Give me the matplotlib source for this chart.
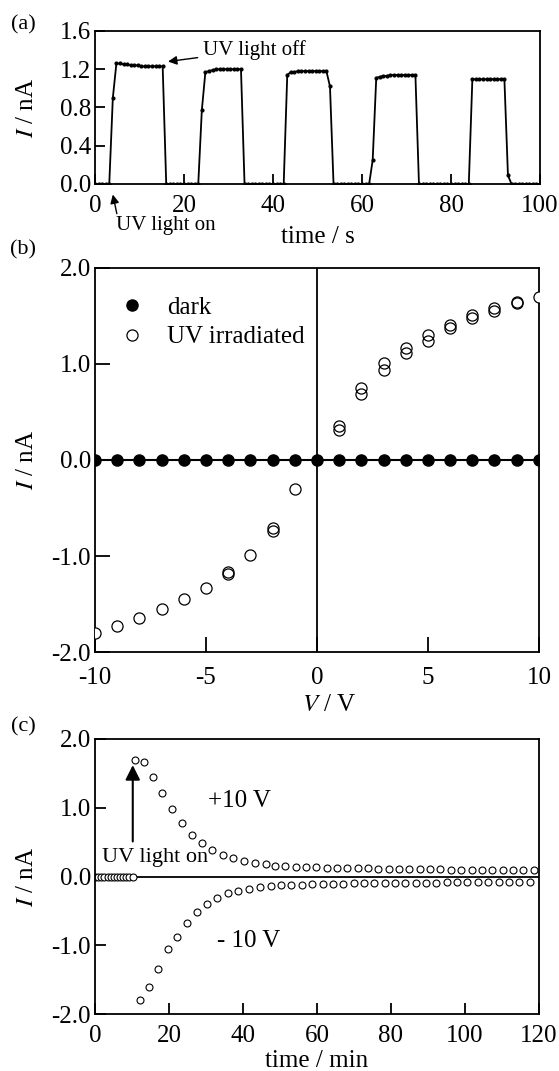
import numpy as np
import matplotlib
matplotlib.use("Agg")
import matplotlib.pyplot as plt
from matplotlib.ticker import FuncFormatter
from matplotlib.lines import Line2D

plt.rcParams["font.family"] = ["Liberation Serif", "DejaVu Serif"]
plt.rcParams["mathtext.fontset"] = "stix"
plt.rcParams["font.size"] = 18

# (a) photocurrent switching, sampled every 0.8 s
time_a = np.linspace(0, 100, 126)
current_a = [
    0, 0, 0, 0, 0, 0.90, 1.26,
    1.26, 1.25, 1.25, 1.24, 1.24, 1.24, 1.23, 1.23, 1.23, 1.23, 1.23, 1.23, 1.23,
    0, 0, 0, 0, 0, 0, 0, 0, 0, 0,
    0.77, 1.17,
    1.18, 1.19, 1.20, 1.20, 1.20, 1.20, 1.20, 1.20, 1.20, 1.20,
    0, 0, 0, 0, 0, 0, 0, 0, 0, 0, 0, 0,
    1.14,
    1.17, 1.17, 1.18, 1.18, 1.18, 1.18, 1.18, 1.18, 1.18, 1.18, 1.18,
    1.02,
    0, 0, 0, 0, 0, 0, 0, 0, 0, 0, 0,
    0.25, 1.11,
    1.12, 1.13, 1.13, 1.14, 1.14, 1.14, 1.14, 1.14, 1.14, 1.14, 1.14,
    0, 0, 0, 0, 0, 0, 0, 0, 0, 0, 0, 0, 0, 0,
    0,
    1.095, 1.095, 1.095, 1.095, 1.095, 1.095, 1.095, 1.095, 1.095, 1.095,
    0.09,
    0, 0, 0, 0, 0, 0, 0, 0, 0,
]

# (b) I-V curves
volt_dark = [-10, -9, -8, -7, -6, -5, -4, -3, -2, -1, 0, 1, 2, 3, 4, 5, 6, 7, 8, 9, 10]
cur_dark = [0] * 21
volt_uv1 = [-10, -9, -8, -7, -6, -5, -4, -3, -2, -1, 1, 2, 3, 4, 5, 6, 7, 8, 9, 10]
cur_uv1 = [-1.80, -1.73, -1.65, -1.555, -1.45, -1.33, -1.17, -0.99, -0.71, -0.30,
           0.35, 0.75, 1.01, 1.17, 1.30, 1.41, 1.51, 1.58, 1.65, 1.70]
volt_uv2 = [-4, -2, 1, 2, 3, 4, 5, 6, 7, 8, 9]
cur_uv2 = [-1.19, -0.74, 0.31, 0.69, 0.94, 1.11, 1.24, 1.37, 1.475, 1.555, 1.63]

# (c) transient response at +/-10 V
time_pre = [0, 0.8, 1.7, 2.5, 3.4, 4.2, 5.1, 5.9, 6.8, 7.6, 8.5, 9.3, 10.2]
cur_pre = [0] * 13
time_pos = [10.8, 13.3, 15.8, 18.2, 20.8, 23.4, 26.1, 28.8, 31.7, 34.5, 37.4, 40.4,
            43.2, 46.1, 48.6, 51.4, 54.2, 57.0, 59.8, 62.6, 65.4, 68.2, 71.0, 73.8,
            76.6, 79.4, 82.2, 85.0, 87.8, 90.6, 93.4, 96.2, 99.0, 101.8, 104.6,
            107.4, 110.2, 113.0, 115.8, 118.6]
cur_pos = [1.70, 1.67, 1.445, 1.22, 0.985, 0.78, 0.61, 0.485, 0.39, 0.315, 0.27,
           0.225, 0.195, 0.18, 0.16, 0.15, 0.145, 0.14, 0.135, 0.13, 0.13, 0.125,
           0.12, 0.12, 0.115, 0.115, 0.11, 0.11, 0.11, 0.105, 0.105, 0.10, 0.10,
           0.10, 0.10, 0.10, 0.095, 0.095, 0.095, 0.09]
time_neg = [12.2, 14.6, 17.0, 19.6, 22.1, 24.8, 27.5, 30.4, 33.1, 36.0, 38.6, 41.6,
            44.6, 47.5, 50.3, 53.1, 55.9, 58.7, 61.5, 64.3, 67.1, 69.9, 72.7, 75.5,
            78.3, 81.1, 83.9, 86.7, 89.5, 92.3, 95.1, 97.9, 100.7, 103.5, 106.3,
            109.1, 111.9, 114.7, 117.5]
cur_neg = [-1.80, -1.61, -1.35, -1.06, -0.88, -0.67, -0.515, -0.40, -0.31, -0.24,
           -0.21, -0.18, -0.155, -0.14, -0.13, -0.125, -0.12, -0.115, -0.11, -0.11,
           -0.105, -0.10, -0.10, -0.10, -0.095, -0.095, -0.09, -0.09, -0.09, -0.09,
           -0.085, -0.085, -0.085, -0.085, -0.08, -0.08, -0.08, -0.08, -0.08]

hyphen = FuncFormatter(lambda v, p: ("%.1f" % v).replace("\u2212", "-"))
hyphen_int = FuncFormatter(lambda v, p: "%d" % v)

FS = 18


def style(ax, ticklen, xpad, xlab, ylab, xlab_pos):
    for s in ax.spines.values():
        s.set_linewidth(1.3)
    ax.tick_params(direction="in", length=ticklen, width=1.3, top=False,
                   right=False, labelsize=FS)
    ax.tick_params(axis="x", pad=xpad)
    ax.tick_params(axis="y", pad=3)
    ax.set_ylabel(ylab, fontsize=FS, va="center")
    ax.yaxis.set_label_coords(-0.153, 0.5)
    ax.set_xlabel(xlab, fontsize=FS, va="center")
    ax.xaxis.set_label_coords(*xlab_pos)


fig = plt.figure(figsize=(5.59, 10.71), dpi=100)

# ---- (a)
ax1 = fig.add_axes([0.170, 0.8282, 0.796, 0.1429])
ax1.plot(time_a, current_a, color="black", lw=1.3, marker="o", ms=2)
ax1.set_xlim(0, 100)
ax1.set_ylim(0, 1.6)
ax1.set_xticks([0, 20, 40, 60, 80, 100])
ax1.set_yticks([0, 0.4, 0.8, 1.2, 1.6])
ax1.yaxis.set_major_formatter(hyphen)
style(ax1, 7, 8, "time / s", "$I$ / nA", (0.5, -0.345))
ax1.annotate("UV light off", xy=(16.4, 1.28), xytext=(24.3, 1.40), fontsize=15,
             va="center", ha="left",
             arrowprops=dict(arrowstyle="-|>", color="black", lw=1,
                             mutation_scale=13, shrinkA=2, shrinkB=0))
ax1.annotate("", xy=(4.0, -0.11), xytext=(4.9, -0.31), annotation_clip=False,
             arrowprops=dict(arrowstyle="-|>", color="black", lw=1,
                             mutation_scale=13, shrinkA=0, shrinkB=0))
ax1.text(4.7, -0.43, "UV light on", fontsize=15, ha="left", va="center",
         clip_on=False)

# ---- (b)
ax2 = fig.add_axes([0.170, 0.3912, 0.794, 0.3586])
ax2.axvline(0, color="black", lw=1.3)
ax2.plot(volt_dark, cur_dark, color="black", lw=1.5, marker="o", ms=8, zorder=3)
ax2.plot(volt_uv1, cur_uv1, ls="none", marker="o", ms=8, mfc="white",
         mec="black", mew=0.9, zorder=4)
ax2.plot(volt_uv2, cur_uv2, ls="none", marker="o", ms=8, mfc="none",
         mec="black", mew=0.9, zorder=4)
ax2.set_xlim(-10, 10)
ax2.set_ylim(-2, 2)
ax2.set_xticks([-10, -5, 0, 5, 10])
ax2.set_yticks([-2, -1, 0, 1, 2])
ax2.xaxis.set_major_formatter(hyphen_int)
ax2.yaxis.set_major_formatter(hyphen)
style(ax2, 11, 11, "$V$ / V", "$I$ / nA", (0.527, -0.138))
handles = [
    Line2D([], [], ls="none", marker="o", ms=8, color="black"),
    Line2D([], [], ls="none", marker="o", ms=8, mfc="white", mec="black", mew=0.9),
]
ax2.legend(handles, ["dark", "UV irradiated"], loc="upper left",
           bbox_to_anchor=(0.032, 0.952), frameon=False, borderaxespad=0,
           handlelength=1.0, handletextpad=0.9, labelspacing=0.28, fontsize=FS)

# ---- (c)
ax3 = fig.add_axes([0.170, 0.0532, 0.794, 0.2568])
ax3.axhline(0, color="black", lw=1.3)
ax3.plot(time_pre, cur_pre, ls="none", marker="o", ms=5, mfc="white",
         mec="black", mew=0.8)
ax3.plot(time_pos, cur_pos, ls="none", marker="o", ms=5, mfc="white",
         mec="black", mew=0.8, clip_on=False)
ax3.plot(time_neg, cur_neg, ls="none", marker="o", ms=5, mfc="white",
         mec="black", mew=0.8)
ax3.set_xlim(0, 120)
ax3.set_ylim(-2, 2)
ax3.set_xticks([0, 20, 40, 60, 80, 100, 120])
ax3.set_yticks([-2, -1, 0, 1, 2])
ax3.yaxis.set_major_formatter(hyphen)
style(ax3, 8, 8, "time / min", "$I$ / nA", (0.5, -0.172))
ax3.annotate("", xy=(10.2, 1.62), xytext=(10.2, 0.51),
             arrowprops=dict(arrowstyle="-|>", color="black", lw=1.5,
                             mutation_scale=22, shrinkA=0, shrinkB=0))
ax3.text(1.9, 0.28, "UV light on", fontsize=16, ha="left", va="center")
ax3.text(30.5, 1.10, "+10 V", fontsize=FS, ha="left", va="center")
ax3.text(33.0, -0.94, "- 10 V", fontsize=FS, ha="left", va="center")

fig.text(23 / 559, 1 - 25 / 1071, "(a)", fontsize=16, ha="center", va="center")
fig.text(23 / 559, 1 - 250 / 1071, "(b)", fontsize=16, ha="center", va="center")
fig.text(23 / 559, 1 - 727 / 1071, "(c)", fontsize=16, ha="center", va="center")

fig.savefig("out.png", dpi=100)
